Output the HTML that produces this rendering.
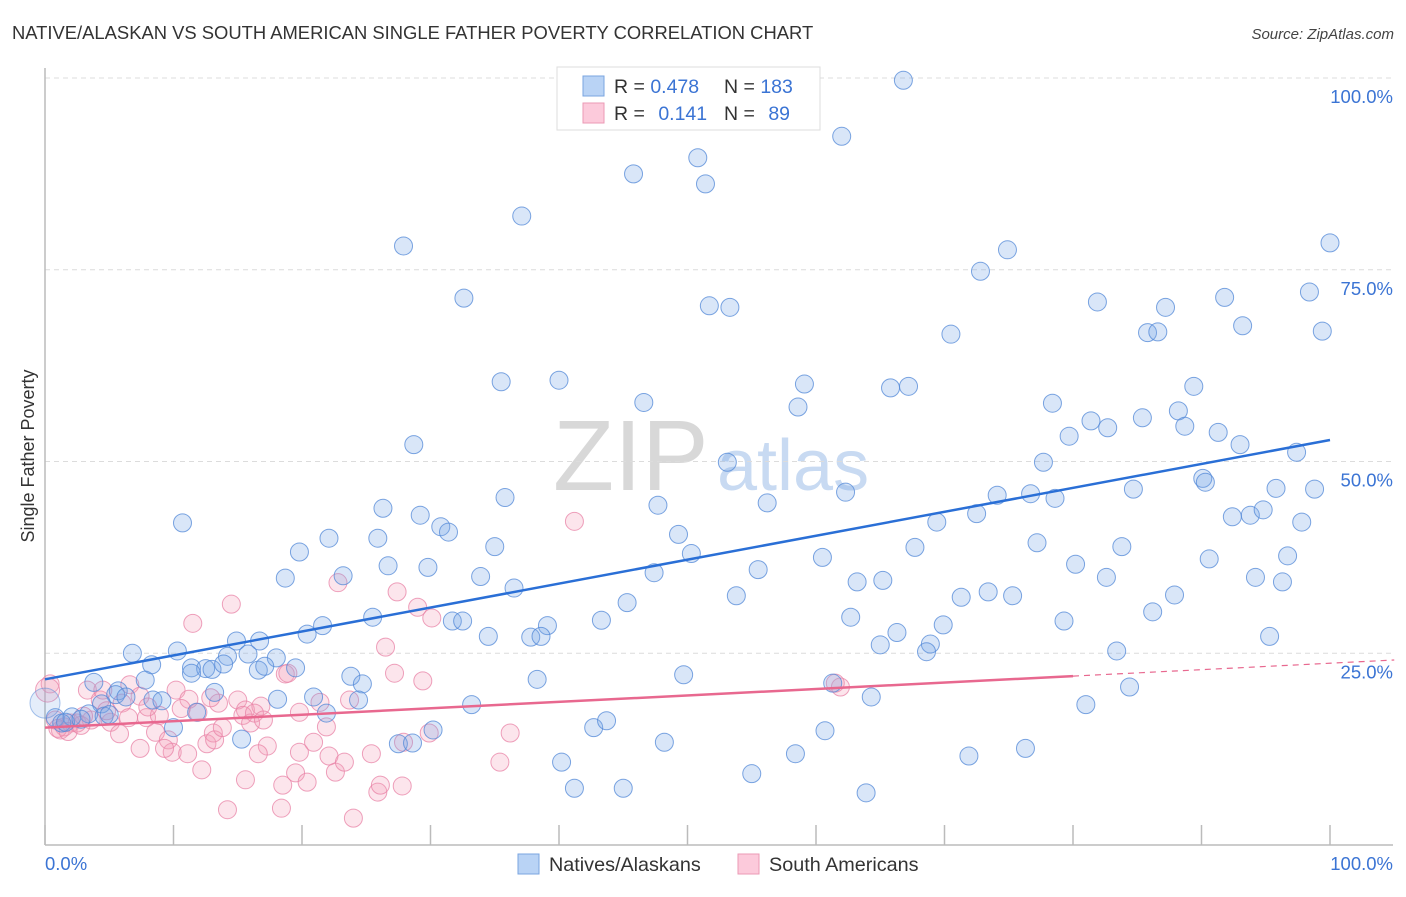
<!DOCTYPE html>
<html><head><meta charset="utf-8"><style>
body{margin:0;background:#fff;font-family:"Liberation Sans",sans-serif;}
svg text{font-family:"Liberation Sans",sans-serif;}
</style></head><body>
<svg id="chart" width="1406" height="892" viewBox="0 0 1406 892" xmlns="http://www.w3.org/2000/svg">
<text x="12" y="39" font-size="18.4" fill="#333">NATIVE/ALASKAN VS SOUTH AMERICAN SINGLE FATHER POVERTY CORRELATION CHART</text>
<text x="1394" y="39" font-size="15" fill="#444" font-style="italic" text-anchor="end">Source: ZipAtlas.com</text>
<text transform="translate(34,456) rotate(-90)" font-size="18" fill="#333" text-anchor="middle">Single Father Poverty</text>
<g>
<text x="553" y="490" font-size="100" font-family="Liberation Serif" fill="#d8d8d8">ZIP</text>
<text x="717" y="490" font-size="72" fill="#c8daf2">atlas</text>
</g>
<g id="grid"></g>
<g id="axes"></g>
<g id="pinkPts"></g>
<g id="bluePts"></g>
<g id="lines"></g>
<g>
<rect x="557" y="67" width="263" height="63" fill="#fff" stroke="#ddd"/>
<rect x="583" y="76" width="21" height="20" fill="#b9d3f5" stroke="#7aa5e0"/>
<rect x="583" y="103" width="21" height="20" fill="#fccadb" stroke="#eb9ab5"/>
<text x="614" y="93" font-size="19.5" fill="#333">R = <tspan fill="#3b74d4">0.478</tspan></text>
<text x="724" y="93" font-size="19.5" fill="#333">N = <tspan fill="#3b74d4">183</tspan></text>
<text x="614" y="120" font-size="19.5" fill="#333">R = <tspan fill="#3b74d4" dx="8">0.141</tspan></text>
<text x="724" y="120" font-size="19.5" fill="#333">N = <tspan fill="#3b74d4" dx="8">89</tspan></text>
</g>
<g>
<rect x="518" y="854" width="21" height="20" fill="#b9d3f5" stroke="#7aa5e0"/>
<text x="549" y="871" font-size="19.8" fill="#333">Natives/Alaskans</text>
<rect x="738" y="854" width="21" height="20" fill="#fccadb" stroke="#eb9ab5"/>
<text x="769" y="871" font-size="19.8" fill="#333">South Americans</text>
</g>
</svg>
<script>
const blueX=[66.8,62.0,50.8,45.8,51.4,37.1,27.9,100,74.9,72.8,32.6,51.7,53.3,81.9,87.2,91.8,98.4,99.4,93.2,85.8,86.6,70.5,35.5,40.0,59.1,65.8,67.2,89.4,46.6,58.6,78.4,88.2,81.4,85.4,79.7,82.7,88.7,91.3,93.0,28.7,97.4,53.1,77.7,90.1,90.3,95.8,98.8,84.7,62.3,74.1,76.7,78.6,35.8,47.7,56.2,26.3,29.2,72.5,92.4,93.8,94.8,97.8,69.4,10.7,30.8,31.4,49.3,25.9,22.1,77.2,83.8,67.7,35.0,50.3,19.8,60.5,90.6,96.7,80.2,26.7,29.8,55.5,47.4,33.9,23.2,18.7,82.6,94.2,63.2,65.2,96.3,36.5,73.4,53.8,71.3,75.3,87.9,45.3,86.2,62.7,25.5,43.3,21.6,39.1,31.7,32.5,79.3,69.9,66.3,20.4,34.5,37.8,38.6,14.9,16.7,95.3,68.9,65.0,10.3,6.8,15.8,14.2,18.0,68.6,83.4,8.3,11.4,12.5,13.0,16.6,17.1,19.5,11.4,13.9,49.7,23.8,24.7,3.8,7.8,38.3,61.3,84.4,5.7,13.2,5.5,6.3,64.3,24.4,18.1,20.9,8.4,9.1,33.2,81.0,4.4,11.8,21.9,3.4,4.6,0.8,2.1,1.3,10.0,30.2,42.7,43.7,60.7,76.3,48.2,15.3,27.5,28.6,58.4,71.9,40.2,55.0,41.2,45.0,63.9,1.6,2.8,5.0];
const blueY=[99.7,92.4,89.6,87.5,86.2,82.0,78.1,78.5,77.6,74.8,71.3,70.3,70.1,70.8,70.1,71.4,72.1,67.0,67.7,66.8,66.9,66.6,60.4,60.6,60.1,59.6,59.8,59.8,57.7,57.1,57.6,56.6,55.3,55.7,53.3,54.4,54.6,53.8,52.2,52.2,51.2,49.9,49.9,47.8,47.3,46.5,46.4,46.4,46.0,45.6,45.8,45.2,45.3,44.3,44.6,43.9,43.0,43.2,42.8,43.0,43.7,42.1,42.1,42.0,41.5,40.8,40.5,40.0,40.0,39.4,38.9,38.8,38.9,38.0,38.2,37.5,37.3,37.7,36.6,36.4,36.2,35.9,35.5,35.0,35.1,34.8,34.9,34.9,34.3,34.5,34.3,33.5,33.0,32.5,32.3,32.5,32.6,31.6,30.4,29.7,29.7,29.3,28.6,28.6,29.2,29.2,29.2,28.7,27.7,27.5,27.2,27.1,27.2,26.6,26.6,27.2,26.2,26.1,25.3,25.0,24.9,24.6,24.4,25.2,25.3,23.5,23.1,23.0,22.9,22.8,23.3,23.1,22.4,23.6,22.2,22.0,21.0,21.2,21.5,21.6,21.1,20.6,20.1,19.9,19.6,19.3,19.3,18.9,19.0,19.3,18.9,18.8,18.3,18.3,18.4,17.3,17.2,17.1,16.8,16.6,16.7,15.9,15.3,15.0,15.3,16.2,14.9,12.6,13.4,13.8,13.2,13.3,11.9,11.6,10.8,9.3,7.4,7.4,6.8,16.0,16.4,17.0];
const pinkX=[0.8,1.2,1.5,2.0,2.5,3.3,4.3,5.1,4.5,3.6,6.6,6.0,7.4,6.5,5.8,7.9,8.9,8.6,9.6,7.4,10.2,11.2,11.9,9.9,11.1,12.6,13.1,13.2,13.5,12.2,9.3,11.5,14.5,15.0,15.6,15.4,13.8,16.0,16.8,16.3,17.0,17.3,16.6,15.6,14.2,18.4,18.7,18.9,19.8,19.8,19.5,18.5,20.4,20.9,21.4,21.9,22.1,22.6,23.3,22.8,23.7,24.0,25.4,25.9,26.1,26.5,27.2,27.4,27.8,27.9,29.0,29.4,30.1,29.9,35.4,36.2,41.2,61.9,61.5,1.0,1.8,2.8,3.0,0.4,4.8,10.6,12.9,8.0];
const pinkY=[16.3,15.0,15.4,15.9,15.9,20.2,18.9,16.0,20.2,16.3,20.9,18.5,19.4,16.6,14.5,16.6,16.9,14.7,13.7,12.6,20.2,19.0,17.3,12.1,11.9,13.2,14.6,13.7,18.5,9.8,12.6,28.9,31.4,18.9,17.6,16.9,15.3,15.9,18.1,17.2,16.3,12.9,11.9,8.5,4.6,4.8,22.3,22.4,17.3,12.1,9.4,7.8,8.2,13.4,18.6,15.4,11.6,9.5,10.8,34.2,18.9,3.5,11.9,6.9,7.8,25.8,22.4,33.0,7.7,13.4,31.0,21.4,29.6,14.6,10.8,14.6,42.2,20.6,21.1,15.2,14.8,15.6,16.8,21.0,17.5,17.8,19.2,18.0];
const yTicks=[25,50,75,100];
const yTickLabels=["25.0%","50.0%","75.0%","100.0%"];
const xTicks=[0,10,20,30,40,50,60,70,80,90,100];
const blueTrend=[21.6,52.8];
const pinkTrend=[15.3,23.7];
const pinkSolidEnd=80;

const NS="http://www.w3.org/2000/svg";
const X0=45,X1=1330,Y0=845,Y1=78;
const sx=v=>X0+(X1-X0)*v/100, sy=v=>Y0-(Y0-Y1)*v/100;
function mk(tag,attrs,parent){const e=document.createElementNS(NS,tag);for(const k in attrs)e.setAttribute(k,attrs[k]);parent.appendChild(e);return e;}
const grid=document.getElementById('grid'),axes=document.getElementById('axes');
yTicks.forEach((t,i)=>{
  const l=mk('line',{x1:X0,x2:1393,y1:sy(t),y2:sy(t),stroke:'#dcdcdc','stroke-dasharray':'5,4'},grid);
  
  
  const tx=mk('text',{x:1393,y:sy(t)+25,'font-size':18.5,fill:'#3b74d4','text-anchor':'end'},grid);
  tx.textContent=yTickLabels[i];
  
  
});
const ax=mk('line',{x1:X0,x2:1393,y1:Y0,y2:Y0,stroke:'#bbb','stroke-width':1.5},axes);


const ay=mk('line',{x1:X0,x2:X0,y1:68,y2:Y0,stroke:'#bbb','stroke-width':1.5},axes);


xTicks.forEach(t=>{
  const l=mk('line',{x1:sx(t),x2:sx(t),y1:825,y2:Y0,stroke:'#bbb','stroke-width':1.5},axes);
  
  
});
const xl0=mk('text',{x:X0,y:870,'font-size':18.5,fill:'#3b74d4'},axes);xl0.textContent='0.0%';


const xl1=mk('text',{x:1393,y:870,'font-size':18.5,fill:'#3b74d4','text-anchor':'end'},axes);xl1.textContent='100.0%';



const pg=document.getElementById('pinkPts');
pinkX.forEach((x,i)=>{
  const c=mk('circle',{cx:sx(x),cy:sy(pinkY[i]),r:9,fill:'rgba(244,160,188,0.28)',stroke:'rgba(232,130,165,0.75)','stroke-width':1},pg);
  
  
});
const big=mk('circle',{cx:sx(0.2),cy:sy(20.2),r:12,fill:'rgba(244,160,188,0.28)',stroke:'rgba(232,130,165,0.75)','stroke-width':1},pg);


const bg=document.getElementById('bluePts');
blueX.forEach((x,i)=>{
  const c=mk('circle',{cx:sx(x),cy:sy(blueY[i]),r:9,fill:'rgba(120,165,230,0.28)',stroke:'rgba(80,135,215,0.75)','stroke-width':1},bg);
  
  
});
const bb=mk('circle',{cx:sx(0),cy:sy(18.5),r:15,fill:'rgba(120,165,230,0.2)',stroke:'rgba(80,135,215,0.5)','stroke-width':1},bg);



const lg=document.getElementById('lines');
const bl=mk('line',{x1:sx(0),y1:sy(blueTrend[0]),x2:sx(100),y2:sy(blueTrend[1]),stroke:'#2a6fd6','stroke-width':2.5},lg);


const pAt=x=>pinkTrend[0]+(pinkTrend[1]-pinkTrend[0])*x/100;
const pl=mk('line',{x1:sx(0),y1:sy(pAt(0)),x2:sx(pinkSolidEnd),y2:sy(pAt(pinkSolidEnd)),stroke:'#e8688f','stroke-width':2.5},lg);


const pd=mk('line',{x1:sx(pinkSolidEnd),y1:sy(pAt(pinkSolidEnd)),x2:sx(105),y2:sy(pAt(105)),stroke:'#e8688f','stroke-width':1.2,'stroke-dasharray':'6,5'},lg);


</script>
</body></html>
